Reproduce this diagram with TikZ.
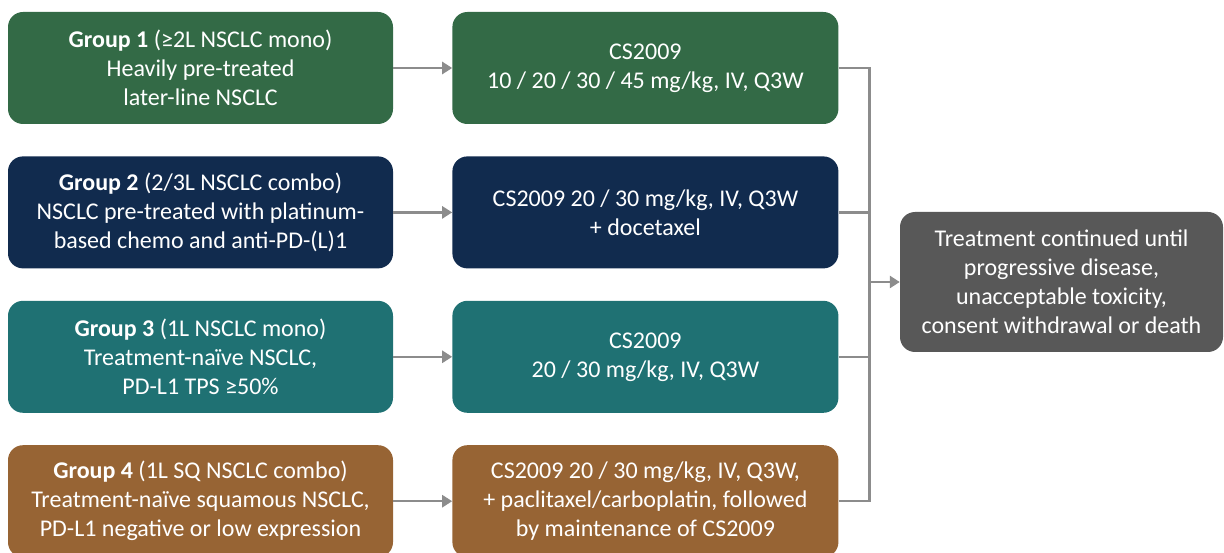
\documentclass[tikz,border=0pt]{standalone}
\usepackage{fontspec}
\setmainfont{Carlito}
\usetikzlibrary{positioning,arrows.meta,calc}
\definecolor{grpgreen}{HTML}{336A46}
\definecolor{grpnavy}{HTML}{112B4E}
\definecolor{grpteal}{HTML}{1F7173}
\definecolor{grpbrown}{HTML}{976434}
\definecolor{outgray}{HTML}{585858}
\definecolor{linegray}{HTML}{8C8C8C}
\pgfmathsetmacro{\boxhgt}{112}
\pgfmathsetmacro{\boxgap}{32}
\tikzset{
  armbox/.style={rounded corners=15pt, text=white, align=center,
    minimum height=\boxhgt pt, inner sep=0pt,
    font=\fontsize{24}{29}\selectfont},
  grpbox/.style={armbox, minimum width=385pt},
  trtbox/.style={armbox, minimum width=386pt},
  link/.style={draw=linegray, line width=2.5pt},
  linkarrow/.style={link, -{Triangle[length=10pt,width=12pt]}}
}

\begin{document}
\begin{tikzpicture}[x=1pt,y=1pt]
    \useasboundingbox (0,0) rectangle (1224,-553);
    % group boxes
    \node[grpbox, fill=grpgreen] (grp_one) at (200.5,-68) {\textbf{Group 1} (≥2L NSCLC mono)\\Heavily pre-treated\\later-line NSCLC};
    \node[grpbox, fill=grpnavy, below=\boxgap pt of grp_one] (grp_two) {\textbf{Group 2} (2/3L NSCLC combo)\\NSCLC pre-treated with platinum-\\based chemo and anti-PD-(L)1};
    \node[grpbox, fill=grpteal, below=\boxgap pt of grp_two] (grp_three) {\textbf{Group 3} (1L NSCLC mono)\\Treatment-naïve NSCLC,\\PD-L1 TPS ≥50\%};
    \node[grpbox, fill=grpbrown, below=\boxgap pt of grp_three] (grp_four) {\textbf{Group 4} (1L SQ NSCLC combo)\\Treatment-naïve squamous NSCLC,\\PD-L1 negative or low expression};
    % treatment boxes
    \node[trtbox, fill=grpgreen, right=59pt of grp_one] (trt_one) {CS2009\\10 / 20 / 30 / 45 mg/kg, IV, Q3W};
    \node[trtbox, fill=grpnavy, right=59pt of grp_two] (trt_two) {CS2009 20 / 30 mg/kg, IV, Q3W\\+ docetaxel};
    \node[trtbox, fill=grpteal, right=59pt of grp_three] (trt_three) {CS2009\\20 / 30 mg/kg, IV, Q3W};
    \node[trtbox, fill=grpbrown, right=59pt of grp_four] (trt_four) {CS2009 20 / 30 mg/kg, IV, Q3W,\\+ paclitaxel/carboplatin, followed\\by maintenance of CS2009};
    % outcome
    \node[armbox, fill=outgray, minimum width=323pt, minimum height=140pt] (outcome) at (1061.5,-282) {Treatment continued until\\progressive disease,\\unacceptable toxicity,\\consent withdrawal or death};
    % junction
    \coordinate (junc_top) at ($(trt_one.east)+(31pt,0)$);
    \coordinate (junc_bot) at (junc_top |- trt_four.east);
    \coordinate (junc_out) at (junc_top |- outcome.west);
    % draw connectors
    \foreach \i in {one,two,three,four} {
        \draw[linkarrow] (grp_\i.east) -- (trt_\i.west);
        \draw[link] (trt_\i.east) -- (junc_top |- trt_\i.east);
    }
    \draw[link, line cap=rect] (junc_top) -- (junc_bot);
    \draw[linkarrow] (junc_out) -- (outcome.west);
\end{tikzpicture}
\end{document}
